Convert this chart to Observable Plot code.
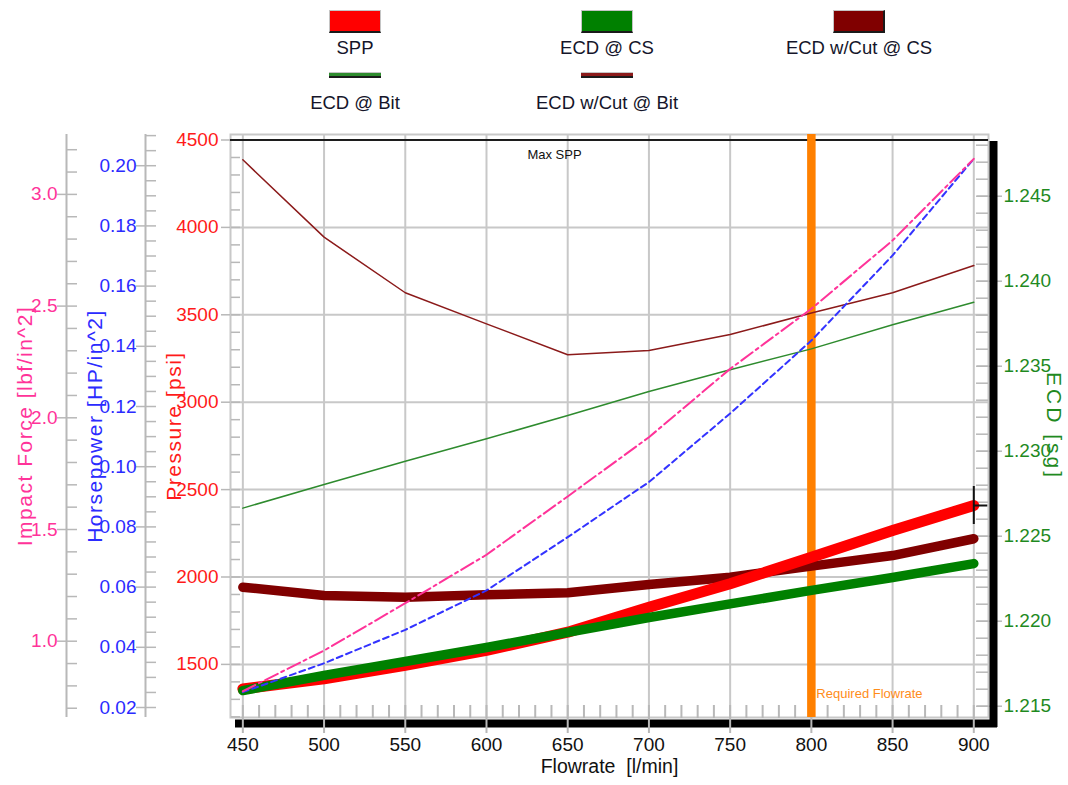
<!DOCTYPE html>
<html><head><meta charset="utf-8">
<script src="https://cdn.jsdelivr.net/npm/d3@7"></script>
<script src="https://cdn.jsdelivr.net/npm/@observablehq/plot@0.6"></script>
<style>
body{margin:0;background:#fff;width:1068px;height:785px;overflow:hidden;font-family:"Liberation Sans",Arial,sans-serif;}
#legend{position:relative;height:120px;width:1068px;}
.sw{position:absolute;width:52px;box-sizing:border-box;transform:translateX(-50%);}
.lab{position:absolute;white-space:nowrap;font-size:18.5px;color:#15152a;transform:translateX(-50%);line-height:20px;}
#chart svg{display:block;}
</style></head><body>
<div id="legend"></div>
<div id="chart"></div>
<script>
// ---- data ----
const flow = [450, 500, 550, 600, 650, 700, 750, 800, 850, 900];
const spp = [1360, 1418, 1494, 1580, 1684, 1827, 1961, 2113, 2266, 2409];
const ecdAtCS = [1.21592, 1.21681, 1.21763, 1.21845, 1.21934, 1.22022, 1.22102, 1.22181, 1.22257, 1.22339];
const ecdCutAtCS = [1.2220, 1.22151, 1.22141, 1.22155, 1.22167, 1.22216, 1.22259, 1.22324, 1.22386, 1.22485];
const ecdAtBit = [1.22665, 1.22804, 1.22941, 1.23073, 1.2321, 1.23351, 1.23479, 1.23602, 1.23744, 1.23876];
const ecdCutAtBit = [1.24714, 1.24259, 1.23932, 1.23749, 1.23567, 1.23592, 1.23686, 1.23813, 1.23932, 1.24092];
const impactForce = [0.776, 0.958, 1.170, 1.387, 1.648, 1.913, 2.219, 2.488, 2.794, 3.159];
const horsepower = [0.0251, 0.0347, 0.0458, 0.0589, 0.0766, 0.0949, 0.1177, 0.1419, 0.1702, 0.2023];
const maxSPP = 4500;
const requiredFlowrate = 800;

// ---- tick labels / axes ----
const xTicks = [450, 500, 550, 600, 650, 700, 750, 800, 850, 900];
const pressureTicks = [1500, 2000, 2500, 3000, 3500, 4000, 4500];
const hpTicks = [0.02, 0.04, 0.06, 0.08, 0.10, 0.12, 0.14, 0.16, 0.18, 0.20];
const impactTicks = [1.0, 1.5, 2.0, 2.5, 3.0];
const ecdTicks = [1.215, 1.220, 1.225, 1.230, 1.235, 1.240, 1.245];

// axis extents at the frame edges
const flowDomain = [442.4, 909.05];
const pDomain = [1196.2, 4531.5];
const ecdDomain = [1.214335, 1.248629];
const impactDomain = [0.6585, 3.2681];
const hpDomain = [0.016678, 0.21037];

const legendItems = [
  {label: "SPP", color: "#ff0000", kind: "box", col: 0, row: 0},
  {label: "ECD @ CS", color: "#008000", kind: "box", col: 1, row: 0},
  {label: "ECD w/Cut @ CS", color: "#800000", kind: "box", col: 2, row: 0},
  {label: "ECD @ Bit", color: "#2e8b2e", kind: "line", col: 0, row: 1},
  {label: "ECD w/Cut @ Bit", color: "#8b1a1a", kind: "line", col: 1, row: 1}
];

// secondary axes mapped onto the pressure scale
const ecdToP = d3.scaleLinear().domain(ecdDomain).range(pDomain);
const impToP = d3.scaleLinear().domain(impactDomain).range(pDomain);
const hpToP = d3.scaleLinear().domain(hpDomain).range(pDomain);

const rows = flow.map((f, i) => ({
  flow: f, spp: spp[i],
  ecdCS: ecdToP(ecdAtCS[i]), ecdCutCS: ecdToP(ecdCutAtCS[i]),
  ecdBit: ecdToP(ecdAtBit[i]), ecdCutBit: ecdToP(ecdCutAtBit[i]),
  impact: impToP(impactForce[i]), hp: hpToP(horsepower[i])
}));

// legend
const legend = document.getElementById("legend");
const colX = [355, 607, 859];
legendItems.forEach(it => {
  const sw = document.createElement("div");
  sw.className = "sw";
  sw.style.left = colX[it.col] + "px";
  sw.style.background = it.color;
  if (it.kind === "box") {
    sw.style.top = "10px"; sw.style.height = "23px";
    sw.style.border = "1px solid #c4c4c4";
    sw.style.borderBottom = "2px solid #1a1a1a";
    if (it.col === 2) sw.style.borderRight = "2px solid #1a1a1a";
  } else {
    sw.style.top = "72px"; sw.style.height = "6px";
    sw.style.borderTop = "1px solid #c4c4c4";
    sw.style.borderBottom = "2px solid #1a1a1a";
  }
  legend.appendChild(sw);
  const lb = document.createElement("div");
  lb.className = "lab";
  lb.textContent = it.label;
  lb.style.left = colX[it.col] + "px";
  lb.style.top = (it.row === 0 ? 38 : 93) + "px";
  legend.appendChild(lb);
});

const W = 1068, H = 665, mL = 230, mR = 80, mT = 14, mB = 68;
const frameR = W - mR;
const gridC = "#c8c8c8", tickC = "#b8b8b8";
const redC = "#ff1a1a", blueC = "#2b2bff", pinkC = "#ff3399", greenC = "#1f8a1f";

const pMinor = d3.range(1200, 4501, 100);
const hpMinor = d3.range(0.02, 0.2101, 0.005);
const impMinor = d3.range(0.7, 3.2001, 0.1);
const ecdMinor = d3.range(1.215, 1.2485, 0.001);
const xMinor = d3.range(450, 901, 10);

const noText = () => "";
const hpX = 145, impX = 66;

const plot = Plot.plot({
  width: W, height: H,
  marginLeft: mL, marginRight: mR, marginTop: mT, marginBottom: mB,
  style: {fontFamily: '"Liberation Sans", Arial, sans-serif', fontSize: "19px", background: "#fff", overflow: "visible"},
  x: {domain: flowDomain},
  y: {domain: pDomain},
  marks: [
    // grid
    Plot.ruleX(xTicks, {stroke: gridC, strokeWidth: 2}),
    Plot.ruleY(pressureTicks.filter(p => p < maxSPP), {stroke: gridC, strokeWidth: 2}),
    Plot.frame({stroke: gridC, strokeWidth: 2}),
    // inside x minor ticks
    Plot.axisX(xMinor, {anchor: "top", dy: H - mT - mB, tickSize: 13, stroke: tickC, strokeWidth: 2, tickFormat: noText, label: null}),
    // pressure axis
    Plot.axisY(pMinor, {anchor: "right", dx: mL - frameR, tickSize: 9, stroke: tickC, strokeWidth: 1.5, tickFormat: noText, label: null}),
    Plot.axisY(pressureTicks, {anchor: "left", tickSize: 9, tickPadding: 3, stroke: tickC, strokeWidth: 1.5, fill: redC, fontSize: 19, tickFormat: d => String(d), label: null}),
    // horsepower axis
    Plot.ruleX([flowDomain[0]], {dx: hpX - mL, stroke: tickC, strokeWidth: 2}),
    Plot.axisY(hpMinor.map(hpToP), {anchor: "right", dx: hpX - frameR, tickSize: 10, stroke: tickC, strokeWidth: 1.5, tickFormat: noText, label: null}),
    Plot.axisY(hpTicks.map(hpToP), {anchor: "left", dx: hpX - mL, tickSize: 9, tickPadding: 0, stroke: tickC, strokeWidth: 1.5, fill: blueC, fontSize: 19, tickFormat: p => hpToP.invert(p).toFixed(2), label: null}),
    // impact force axis
    Plot.ruleX([flowDomain[0]], {dx: impX - mL, stroke: tickC, strokeWidth: 2}),
    Plot.axisY(impMinor.map(impToP), {anchor: "right", dx: impX - frameR, tickSize: 10, stroke: tickC, strokeWidth: 1.5, tickFormat: noText, label: null}),
    Plot.axisY(impactTicks.map(impToP), {anchor: "left", dx: impX - mL, tickSize: 9, tickPadding: 0, stroke: tickC, strokeWidth: 1.5, fill: pinkC, fontSize: 19, tickFormat: p => impToP.invert(p).toFixed(1), label: null}),
    // ECD axis (right)
    Plot.axisY(ecdMinor.map(ecdToP), {anchor: "left", dx: frameR - mL, tickSize: 12, stroke: tickC, strokeWidth: 1.5, tickFormat: noText, label: null}),
    Plot.axisY(ecdTicks.map(ecdToP), {anchor: "right", dx: -12, tickSize: 25, tickPadding: 2, stroke: tickC, strokeWidth: 1.5, fill: greenC, fontSize: 19, tickFormat: p => ecdToP.invert(p).toFixed(3), label: null}),
    // black axis bars
    Plot.ruleY([pDomain[0]], {stroke: "#000", strokeWidth: 8, dy: 6, insetLeft: 5, insetRight: -9}),
    Plot.ruleX([flowDomain[1]], {stroke: "#000", strokeWidth: 8, dx: 5, insetTop: 7, insetBottom: -10}),
    // x axis
    Plot.axisX(xTicks, {anchor: "bottom", tickSize: 16, tickPadding: 4, stroke: tickC, strokeWidth: 2, fill: "#111", fontSize: 19, tickFormat: d => String(d), label: null}),
    // max SPP
    Plot.ruleY([maxSPP], {stroke: "#1c1c1c", strokeWidth: 2}),
    // required flowrate
    Plot.ruleX([requiredFlowrate], {stroke: "#ff8000", strokeWidth: 8.5}),
    // thick series
    Plot.line(rows, {x: "flow", y: "ecdCutCS", stroke: "#800000", strokeWidth: 9.5, strokeLinecap: "round", strokeLinejoin: "round"}),
    Plot.line(rows, {x: "flow", y: "spp", stroke: "#ff0000", strokeWidth: 11, strokeLinecap: "round", strokeLinejoin: "round"}),
    Plot.line(rows, {x: "flow", y: "ecdCS", stroke: "#008000", strokeWidth: 9.5, strokeLinecap: "round", strokeLinejoin: "round"}),
    // thin series
    Plot.line(rows, {x: "flow", y: "ecdBit", stroke: "#2e8b2e", strokeWidth: 1.5}),
    Plot.line(rows, {x: "flow", y: "ecdCutBit", stroke: "#8b1a1a", strokeWidth: 1.5}),
    Plot.line(rows, {x: "flow", y: "hp", stroke: "#3333ff", strokeWidth: 2, strokeDasharray: "6,4"}),
    Plot.line(rows, {x: "flow", y: "impact", stroke: "#ff3399", strokeWidth: 2, strokeDasharray: "14,4,3,4"}),
    // cursor cross at the SPP end point
    Plot.ruleX(rows.slice(-1), {x: "flow", y1: "spp", y2: "spp", insetTop: -19, insetBottom: -19, stroke: "#111", strokeWidth: 2}),
    Plot.ruleY(rows.slice(-1), {y: "spp", x1: "flow", x2: "flow", insetRight: -14, stroke: "#111", strokeWidth: 2}),
    // annotations
    Plot.text(["Max SPP"], {frameAnchor: "top", dx: -55, dy: 15, fontSize: 13, fill: "#111"}),
    Plot.text([{f: requiredFlowrate}], {x: "f", frameAnchor: "bottom", dx: 5, dy: -20, textAnchor: "start", text: () => "Required Flowrate", fontSize: 13, fill: "#ff8c1a"}),
    // axis titles
    Plot.text(["Flowrate\u00a0\u00a0[l/min]"], {frameAnchor: "bottom", dy: 55, textAnchor: "middle", fontSize: 19.5, fill: "#111"}),
    Plot.text(["Impact Force [lbf/in^2]"], {frameAnchor: "left", dx: 25 - mL, rotate: -90, textAnchor: "middle", lineAnchor: "middle", fontSize: 21, fill: pinkC}),
    Plot.text(["Horsepower [HP/in^2]"], {frameAnchor: "left", dx: 95 - mL, rotate: -90, textAnchor: "middle", lineAnchor: "middle", fontSize: 21, fill: blueC}),
    Plot.text(["Pressure [psi]"], {frameAnchor: "left", dx: 174 - mL, rotate: -90, textAnchor: "middle", lineAnchor: "middle", fontSize: 21, fill: redC}),
    Plot.text(["ECD [sg]"], {frameAnchor: "right", dx: 65, rotate: 90, textAnchor: "middle", lineAnchor: "middle", fontSize: 21, fill: greenC})
  ]
});
document.getElementById("chart").appendChild(plot);

// letter-spacing on the rotated titles
const spaced = {"Impact Force [lbf/in^2]": 1.5, "Horsepower [HP/in^2]": 1.5, "Pressure [psi]": 1.5, "ECD [sg]": 3};
d3.select(plot).selectAll("text").each(function() {
  const s = spaced[this.textContent];
  if (s) d3.select(this).attr("letter-spacing", s + "px");
});
</script>
</body></html>
